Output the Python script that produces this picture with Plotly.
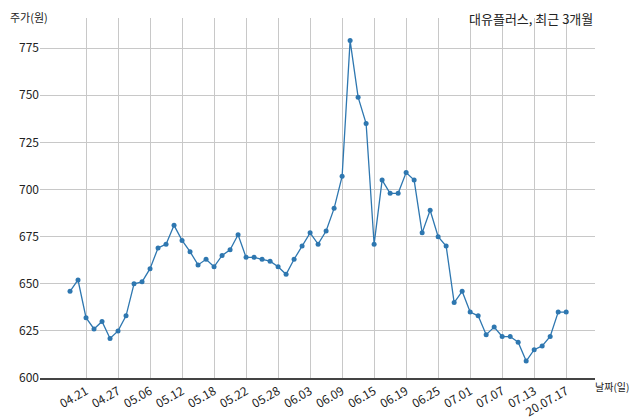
import plotly.graph_objects as go

# 주가 (원), 최근 3개월 거래일
prices = [646, 652, 632, 626, 630, 621, 625, 633, 650, 651,
          658, 669, 671, 681, 673, 667, 660, 663, 659, 665,
          668, 676, 664, 664, 663, 662, 659, 655, 663, 670,
          677, 671, 678, 690, 707, 779, 749, 735, 671, 705,
          698, 698, 709, 705, 677, 689, 675, 670, 640, 646,
          635, 633, 623, 627, 622, 622, 619, 609, 615, 617,
          622, 635, 635]
tick_idx = [2, 6, 10, 14, 18, 22, 26, 30, 34, 38, 42, 46, 50, 54, 58, 62]
tick_labels = ['04.21', '04.27', '05.06', '05.12', '05.18', '05.22', '05.28', '06.03',
               '06.09', '06.15', '06.19', '06.25', '07.01', '07.07', '07.13', '20.07.17']

x = list(range(len(prices)))

fig = go.Figure(go.Scatter(x=x, y=prices, mode='lines+markers',
                           line=dict(color='#2e77b0', width=1.3),
                           marker=dict(color='#2e77b0', size=5)))

fig.update_layout(
    width=632, height=411, plot_bgcolor='white', paper_bgcolor='white',
    margin=dict(l=32, r=45, t=10, b=41, autoexpand=False), showlegend=False,
    font=dict(family='Noto Sans CJK KR', size=12, color='#222'),
    annotations=[
        dict(text='대유플러스, 최근 3개월', x=1.0, y=1.0, xref='paper', yref='paper',
             xanchor='right', yanchor='top', showarrow=False, font=dict(size=13), yshift=11),
        dict(text='주가(원)', x=0, y=1.0, xref='paper', yref='paper', xanchor='left',
             yanchor='top', showarrow=False, font=dict(size=11), xshift=-32, yshift=11),
        dict(text='날짜(일)', x=1.0, y=0, xref='paper', yref='paper', xanchor='right',
             yanchor='middle', showarrow=False, font=dict(size=10), xshift=36, yshift=-8),
    ],
)
fig.update_xaxes(range=[-3.75, 65.6], tickvals=tick_idx, ticktext=tick_labels, tickangle=-30,
                 showgrid=True, gridcolor='#c8c8c8', showline=True, linecolor='#444',
                 linewidth=1.5, ticks='', zeroline=False, tickfont=dict(size=12))
fig.update_yaxes(range=[600, 791], tickvals=[600, 625, 650, 675, 700, 725, 750, 775],
                 showgrid=True, gridcolor='#c8c8c8', showline=False, ticks='', zeroline=False,
                 tickfont=dict(size=12))

fig.write_html("out.html")
